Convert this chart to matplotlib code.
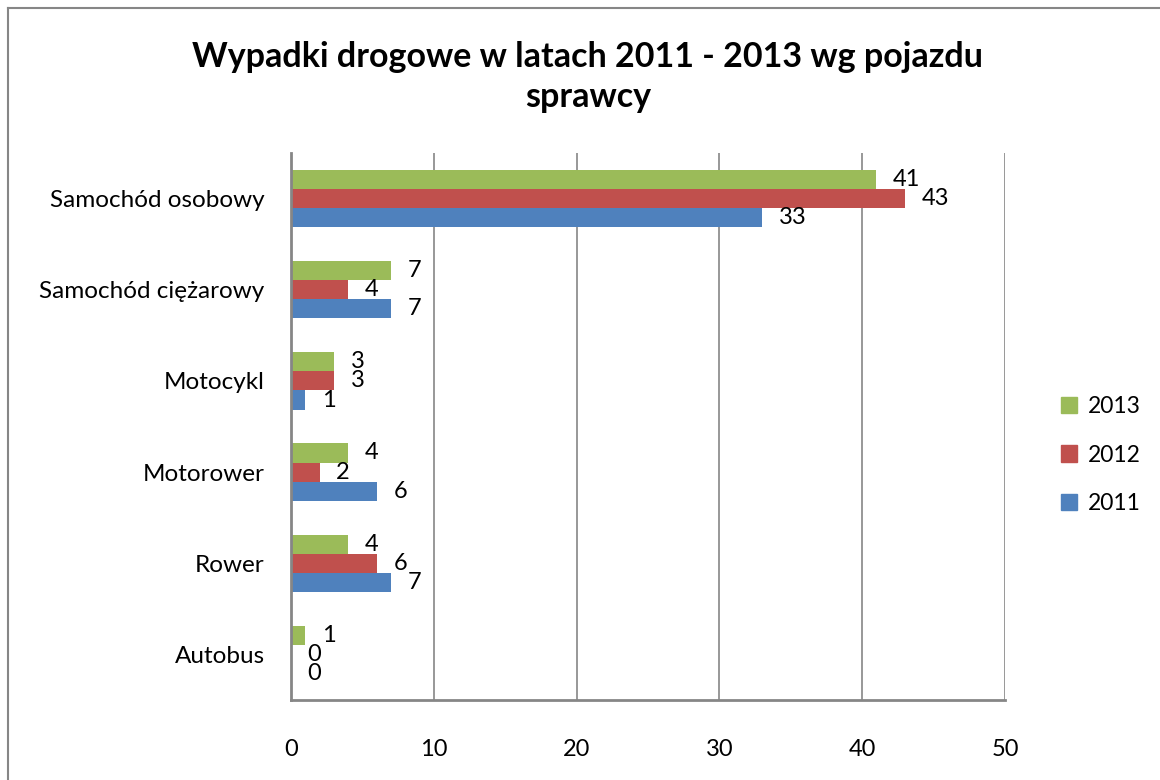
import matplotlib.pyplot as plt
import numpy as np
from matplotlib.lines import Line2D

categories = ["Samochód osobowy", "Samochód ciężarowy", "Motocykl", "Motorower", "Rower", "Autobus"]
years = ["2011", "2012", "2013"]
v2011 = [33, 7, 1, 6, 7, 0]
v2012 = [43, 4, 3, 2, 6, 0]
v2013 = [41, 7, 3, 4, 4, 1]
xticks = [0, 10, 20, 30, 40, 50]

colors = {"2011": "#4F81BD", "2012": "#C0504D", "2013": "#9BBB59"}
series = {"2011": v2011, "2012": v2012, "2013": v2013}

plt.rcParams["font.family"] = ["Lato", "DejaVu Sans"]

fig = plt.figure(figsize=(11.6, 7.8), dpi=100)
ax = fig.add_axes([291 / 1160, 1 - 700 / 780, (1005 - 291) / 1160, (700 - 153) / 780])

n = len(categories)
ypos = np.arange(n)[::-1]  # first category at top
h = 0.21
offsets = {"2011": -h, "2012": 0.0, "2013": h}
for yr in years:
    vals = series[yr]
    yy = ypos + offsets[yr]
    ax.barh(yy, vals, height=h, color=colors[yr], label=yr, zorder=3)
    for y, v in zip(yy, vals):
        ax.annotate(str(v), (v, y), xytext=(12, 0), textcoords="offset points",
                    ha="left", va="center", fontsize=17, color="black", zorder=4)

ax.set_xlim(0, 50)
ax.set_ylim(-0.5, n - 0.5)
ax.set_xticks(xticks)
ax.set_xticklabels([str(t) for t in xticks], fontsize=17)
ax.set_yticks(ypos)
ax.set_yticklabels(categories, fontsize=17.5)
ax.tick_params(axis="both", length=0)
ax.tick_params(axis="x", pad=28)
ax.tick_params(axis="y", pad=19)

ax.grid(axis="x", color="#868686", linewidth=1.2, zorder=0)
for s in ["top", "right"]:
    ax.spines[s].set_visible(False)
for s in ["left", "bottom"]:
    ax.spines[s].set_color("#868686")
    ax.spines[s].set_linewidth(2)
    ax.spines[s].set_zorder(5)

handles = [plt.Rectangle((0, 0), 1, 1, color=colors[yr]) for yr in ["2013", "2012", "2011"]]
fig.legend(handles, ["2013", "2012", "2011"], loc="center left",
           bbox_to_anchor=(1040 / 1160, 1 - 455 / 780), frameon=False,
           fontsize=16.5, handlelength=0.7, handleheight=0.7, labelspacing=1.2,
           handletextpad=0.5)

fig.text(588 / 1160, 1 - 77 / 780, "Wypadki drogowe w latach 2011 - 2013 wg pojazdu\nsprawcy",
         ha="center", va="center", fontsize=24.5, fontweight="bold", linespacing=1.3)

# outer chart frame (left and top edges visible)
fig.add_artist(Line2D([8 / 1160, 8 / 1160], [0, 1 - 8 / 780], transform=fig.transFigure,
                      color="#868686", linewidth=1.5))
fig.add_artist(Line2D([8 / 1160, 1], [1 - 8 / 780, 1 - 8 / 780], transform=fig.transFigure,
                      color="#868686", linewidth=1.5))

fig.savefig("out.png", dpi=100)
